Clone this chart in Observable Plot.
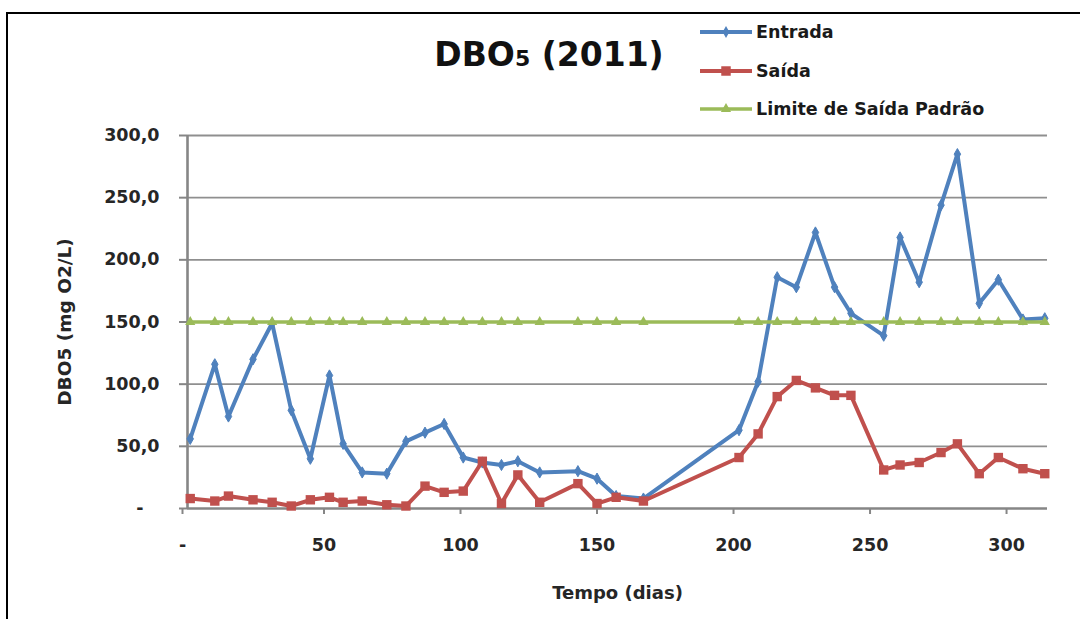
<!DOCTYPE html>
<html>
<head>
<meta charset="utf-8">
<script src="https://cdn.jsdelivr.net/npm/d3@7"></script>
<script src="https://cdn.jsdelivr.net/npm/@observablehq/plot@0.6"></script>
<style>
  html, body { margin: 0; padding: 0; background: #fff; }
  #wrap { position: relative; width: 1080px; height: 619px; overflow: hidden; background: #fff; }
  #frame { position: absolute; left: 6px; top: 12px; width: 1200px; height: 800px;
           border-left: 2.5px solid #000; border-top: 2.5px solid #000; }
  #chart { position: absolute; left: 0; top: 0; }
  #overlay { position: absolute; left: 0; top: 0; pointer-events: none; }
</style>
</head>
<body>
<div id="wrap">
  <div id="frame"></div>
  <div id="chart"></div>
  <svg id="overlay" width="1080" height="130"></svg>
</div>
<script>
// Sampling days (Tempo, dias)
const days = [1, 10, 15, 24, 31, 38, 45, 52, 57, 64, 73, 80, 87, 94, 101, 108, 115, 121, 129, 143, 150, 157, 167,
              202, 209, 216, 223, 230, 237, 243, 255, 261, 268, 276, 282, 290, 297, 306, 314];
// DBO5 at the plant inlet (mg O2/L)
const entrada = [56, 116, 74, 120, 149, 79, 40, 107, 52, 29, 28, 54, 61, 68, 41, 37, 35, 38, 29, 30, 24, 10, 8,
                 63, 102, 186, 178, 222, 178, 157, 139, 218, 182, 244, 285, 165, 184, 152, 153];
// DBO5 at the plant outlet (mg O2/L)
const saida = [8, 6, 10, 7, 5, 2, 7, 9, 5, 6, 3, 2, 18, 13, 14, 38, 4, 27, 5, 20, 4, 9, 6,
               41, 60, 90, 103, 97, 91, 91, 31, 35, 37, 45, 52, 28, 41, 32, 28];
// Standard outlet limit (mg O2/L)
const limite = days.map(() => 150);

const seriesNames = ["Entrada", "Saída", "Limite de Saída Padrão"];
const seriesColors = ["#4F81BD", "#C0504D", "#9BBB59"];
const seriesSymbols = ["diamond", "square", "triangle"];

const yTicks = [0, 50, 100, 150, 200, 250, 300];
const xTicks = [0, 50, 100, 150, 200, 250, 300];
const titleMain = "DBO";
const titleSub = "5";
const titleRest = " (2011)";
const xLabel = "Tempo (dias)";
const yLabel = "DBO5 (mg O2/L)";

const rows = days.map((d, i) => ({day: d, entrada: entrada[i], saida: saida[i], limite: limite[i]}));
const fmtY = d => d.toFixed(1).replace(".", ",");

const FONT = "DejaVu Sans, sans-serif";
const AXIS = "#868686";

const chart = Plot.plot({
  width: 1080,
  height: 619,
  marginLeft: 187,
  marginRight: 33,
  marginTop: 135,
  marginBottom: 111,
  style: {fontFamily: FONT, fontSize: "17.5px", fontWeight: "bold", color: "#262626", background: "transparent", overflow: "visible"},
  x: {domain: [0, 315]},
  y: {domain: [0, 300]},
  marks: [
    Plot.gridY(yTicks.filter(t => t > 0), {stroke: "#8f8f8f", strokeOpacity: 1, strokeWidth: 1.8}),
    Plot.axisY(yTicks.filter(t => t > 0), {tickSize: 8, tickPadding: 20, tickFormat: fmtY, stroke: AXIS, strokeWidth: 2, label: null}),
    Plot.axisY([0], {tickSize: 8, tickPadding: 36, tickFormat: () => "-", stroke: AXIS, strokeWidth: 2, label: null}),
    Plot.axisX(xTicks.filter(t => t > 0), {tickSize: 6, tickPadding: 24, tickFormat: d => String(d), stroke: AXIS, strokeWidth: 2, label: null}),
    Plot.axisX([0], {tickSize: 6, tickPadding: 24, tickFormat: () => "-", dx: -5, stroke: AXIS, strokeWidth: 2, label: null}),
    Plot.ruleY([0], {stroke: AXIS, strokeWidth: 2.6}),
    Plot.ruleX([0], {stroke: AXIS, strokeWidth: 2.6}),
    Plot.text([yLabel], {frameAnchor: "left", textAnchor: "middle", dx: -122, rotate: -90, fontSize: 18.5, fontWeight: "bold", fill: "#262626"}),
    Plot.text([xLabel], {frameAnchor: "bottom", textAnchor: "middle", dy: 90, fontSize: 18, fontWeight: "bold", fill: "#262626"}),
    // Entrada
    Plot.line(rows, {x: "day", y: "entrada", stroke: seriesColors[0], strokeWidth: 4, strokeLinejoin: "round"}),
    Plot.dot(rows, {x: "day", y: "entrada", symbol: seriesSymbols[0], r: 3.4, fill: seriesColors[0], stroke: seriesColors[0], strokeWidth: 1}),
    // Saída
    Plot.line(rows, {x: "day", y: "saida", stroke: seriesColors[1], strokeWidth: 4, strokeLinejoin: "round"}),
    Plot.dot(rows, {x: "day", y: "saida", symbol: seriesSymbols[1], r: 5.3, fill: seriesColors[1]}),
    // Limite de Saída Padrão
    Plot.line(rows, {x: "day", y: "limite", stroke: seriesColors[2], strokeWidth: 3.5}),
    Plot.dot(rows, {x: "day", y: "limite", symbol: seriesSymbols[2], r: 3.8, fill: seriesColors[2]})
  ]
});
document.getElementById("chart").appendChild(chart);

// Title and legend
const ov = d3.select("#overlay");
const title = ov.append("text")
  .attr("x", 549).attr("y", 66)
  .attr("text-anchor", "middle")
  .attr("font-family", FONT).attr("font-weight", "bold").attr("font-size", 33)
  .attr("fill", "#111");
title.append("tspan").text(titleMain);
title.append("tspan").attr("font-size", 22).text(titleSub);
title.append("tspan").text(titleRest);

const legendY = [32, 71, 109];
const symMap = {diamond: d3.symbolDiamond, square: d3.symbolSquare, triangle: d3.symbolTriangle};
const symSize = {diamond: 40, square: 90, triangle: 45};
seriesNames.forEach((name, i) => {
  const g = ov.append("g").attr("transform", `translate(0,${legendY[i]})`);
  g.append("line").attr("x1", 700).attr("x2", 752).attr("y1", 0).attr("y2", 0)
    .attr("stroke", seriesColors[i]).attr("stroke-width", i === 2 ? 3.5 : 4);
  g.append("path").attr("transform", "translate(726,0)")
    .attr("d", d3.symbol(symMap[seriesSymbols[i]], symSize[seriesSymbols[i]])())
    .attr("fill", seriesColors[i]);
  g.append("text").attr("x", 756).attr("y", 0).attr("dy", "0.36em")
    .attr("font-family", FONT).attr("font-weight", "bold").attr("font-size", 17.5)
    .attr("fill", "#1a1a1a").text(name);
});
</script>
</body>
</html>
